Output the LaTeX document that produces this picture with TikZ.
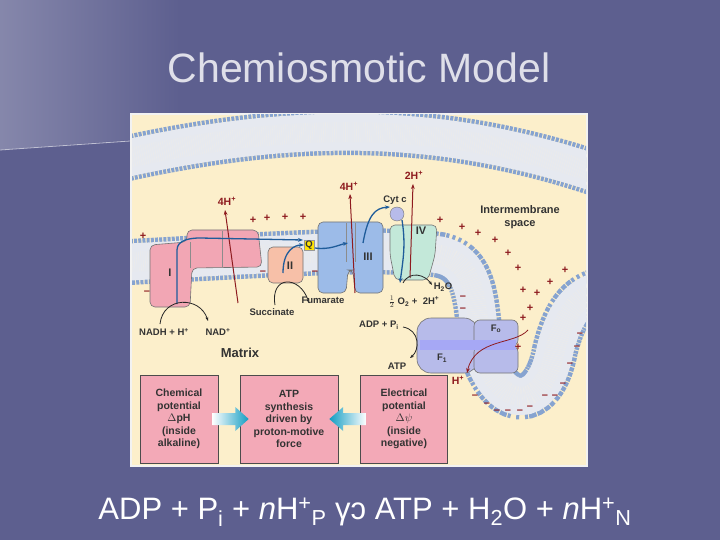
\documentclass[tikz,border=0pt]{standalone}
\usepackage{fontspec}
\setmainfont{Liberation Sans}
\usetikzlibrary{arrows.meta}
\definecolor{bg}{HTML}{5D5F8F}
\definecolor{cream}{HTML}{FCEFCB}
\definecolor{memb}{HTML}{E6E9F0}
\definecolor{bead}{HTML}{86A3D0}
\definecolor{pinkc}{HTML}{F2A6B4}
\definecolor{salm}{HTML}{F7C0A8}
\definecolor{bluec}{HTML}{9CBBE8}
\definecolor{greenc}{HTML}{C3E8D9}
\definecolor{purc}{HTML}{B7BBEA}
\definecolor{dred}{HTML}{8E1B1F}
\definecolor{dblue}{HTML}{1F5C9A}
\definecolor{boxp}{HTML}{F3A9B7}
\tikzset{
 lbl/.style={font=\bfseries\fontsize{9.5}{10}\selectfont,text=black!80,inner sep=0pt},
 rlbl/.style={font=\bfseries\fontsize{10.5}{11}\selectfont,text=dred,inner sep=0pt},
 prot/.style={draw=black!55,line width=0.6pt,rounded corners=5pt},
 redarr/.style={dred,line width=1pt,-{Stealth[length=5pt]}},
 bluearr/.style={dblue,line width=1.3pt,-{Stealth[length=5pt]}},
 blkarr/.style={black!85,line width=0.8pt,-{Stealth[length=4pt]}},
 pbox/.style={fill=boxp,draw=black!70,line width=0.6pt,minimum width=78pt,minimum height=88pt,align=center,font=\bfseries\fontsize{10.5}{12.5}\selectfont,text=black!80},
 pm/.style={font=\bfseries\fontsize{11}{11}\selectfont,text=dred,inner sep=0pt},
 membstyle/.style={line width=46pt},
}
\begin{document}
\begin{tikzpicture}[x=1pt,y=-1pt]
\useasboundingbox (0,0) rectangle (720,540);
\fill[bg] (0,0) rectangle (720,540);
\shade[left color=bg!75!white,right color=bg] (0,0) rectangle (180,150);
\fill[bg] (0,150) -- (130,140) -- (180,140) -- (180,150) -- cycle;
\draw[white!60!bg,line width=0.8pt] (0,150) -- (130,141);
\node[font=\fontsize{41}{44}\selectfont,text=white!80!bg] (title) at (359,68) {Chemiosmotic Model};
% panel
\fill[white!95!black] (130,113) rectangle (588,467);
\begin{scope}
\clip (132,115) rectangle (586,465);
\fill[cream] (132,115) rectangle (586,465);
\draw[bead,membstyle,dash pattern=on 3pt off 1.2pt] (110,162) .. controls (300,118) and (450,122) .. (610,178);
\draw[memb,line width=37pt] (110,162) .. controls (300,118) and (450,122) .. (610,178);
\draw[black!8,line width=20pt,dash pattern=on 0.6pt off 1.6pt] (110,162) .. controls (300,118) and (450,122) .. (610,178);
\path[save path=\inner] (110,263) .. controls (250,256) and (380,246) .. (440,255) .. controls (490,265) and (470,340) .. (490,372) .. controls (510,410) and (545,405) .. (555,350) .. controls (565,310) and (580,292) .. (610,288);
\draw[bead,membstyle,dash pattern=on 3pt off 1.2pt,use path=\inner];
\draw[memb,line width=37pt,use path=\inner];
\draw[black!8,line width=20pt,dash pattern=on 0.6pt off 1.6pt,use path=\inner];
\fill[cream] (132,375) rectangle (450,465);
\end{scope}
% proteins
\draw[prot,fill=pinkc] (187,230) -- (258,230) -- (262,267) -- (192,268) -- (190,307) -- (150,307) -- (150,245) -- (187,242) -- cycle;
\draw[black!45,line width=0.5pt] (190,242) -- (190,268) (222,231) -- (222,267);
\node[lbl,font=\bfseries\fontsize{11}{11}\selectfont] (cI) at (170,273) {I};
\draw[prot,fill=salm] (268,247) rectangle (303,283);
\node[lbl,font=\bfseries\fontsize{11}{11}\selectfont] (cII) at (290,266) {II};
\draw[prot,fill=bluec] (318,222) -- (383,222) -- (383,293) -- (355,293) -- (353,270) -- (348,270) -- (346,293) -- (318,293) -- cycle;
\draw[black!45,line width=0.5pt] (346,223) -- (346,262) (355,223) -- (355,262);
\node[lbl,font=\bfseries\fontsize{11}{11}\selectfont] (cIII) at (368,257) {III};
\draw[prot,fill=greenc] (390,225) -- (437,225) -- (435,255) -- (428,280) -- (395,280) -- (390,255) -- cycle;
\node[lbl,font=\bfseries\fontsize{11}{11}\selectfont] (cIV) at (421,231) {IV};
\draw[draw=black!55,fill=purc] (397,214) circle (7);
\coordinate (cytc) at (397,214);
\draw[draw=black!40,fill=yellow!85!orange] (304,240) rectangle (314,250);
\node[lbl] (Q) at (309,245) {Q};
% ATP synthase
\draw[prot,fill=purc,rounded corners=14pt] (417,318) rectangle (478,373);
\draw[prot,fill=purc,rounded corners=6pt] (474,320) rectangle (518,346);
\draw[prot,fill=purc,rounded corners=6pt] (474,346) rectangle (518,373);
\fill[purc!70!blue!70!white] (420,340) rectangle (516,350);
\node[lbl] (Fo) at (496,329) {F\textsubscript{o}};
\node[lbl] (F1) at (442,358) {F\textsubscript{1}};
% red arrows
\coordinate (r1a) at (238,303); \coordinate (r1b) at (225,210);
\coordinate (r3a) at (355,293); \coordinate (r3b) at (350,194);
\coordinate (r4a) at (410,278); \coordinate (r4b) at (413,184);
\draw[redarr] (r1a) -- (r1b);
\draw[redarr] (r3a) -- (r3b);
\draw[redarr] (r4a) -- (r4b);
\node[rlbl] (h1) at (227,201) {4H\textsuperscript{+}};
\node[rlbl] (h3) at (349,186) {4H\textsuperscript{+}};
\node[rlbl] (h4) at (414,175) {2H\textsuperscript{+}};
\coordinate (ra) at (528,330);
\draw[redarr,line width=0.8pt] (ra) .. controls (515,345) and (475,338) .. (467,373);
\node[rlbl] (hp) at (458,380) {H\textsuperscript{+}};
% blue arrows
\draw[bluearr] (177,304) -- (177,250) .. controls (177,240) and (190,238) .. (200,238) -- (303,240);
\draw[bluearr] (283,273) .. controls (283,250) and (295,245) .. (304,245);
\draw[bluearr] (315,248) .. controls (330,250) and (338,245) .. (348,243);
\draw[bluearr] (363,243) .. controls (368,215) and (375,208) .. (390,207);
\draw[bluearr] (cytc) ++(5,6) .. controls (406,245) and (403,260) .. (400,283);
% black arrows
\draw[blkarr] (160,324) .. controls (163,296) and (200,296) .. (208,321);
\draw[blkarr] (275,305) .. controls (270,275) and (300,275) .. (309,303);
\draw[blkarr] (403,283) .. controls (410,270) and (425,275) .. (432,285);
\draw[blkarr] (403,327) .. controls (420,330) and (420,350) .. (410,358);
% labels
\node[lbl] (nadh) at (164,332) {NADH + H\textsuperscript{+}};
\node[lbl] (nad) at (218,332) {NAD\textsuperscript{+}};
\node[lbl] (succ) at (272,312) {Succinate};
\node[lbl] (fum) at (323,300) {Fumarate};
\node[lbl] (cytl) at (395,200) {Cyt c};
\node[lbl] (h2o) at (443,287) {H\textsubscript{2}O};
\node[lbl] (o2) at (414,302) {$\frac{1}{2}$ O\textsubscript{2} + \ 2H\textsuperscript{+}};
\node[lbl] (adp) at (379,325) {ADP + P\textsubscript{i}};
\node[lbl] (atp) at (397,366) {ATP};
\node[lbl,font=\bfseries\fontsize{13}{13}\selectfont] (mat) at (240,353) {Matrix};
\node[lbl,font=\bfseries\fontsize{11}{13}\selectfont,align=center] (ims) at (520,217) {Intermembrane\\space};
% plus / minus
\foreach \p in {(143,236),(253,220),(267,218),(285,217),(303,217),(440,220),(462,227),(478,233),(495,240),(508,253),(518,268),(523,290),(537,293),(550,282),(565,270),(530,308),(523,318),(518,347)}
 \node[pm] at \p {+};
\foreach \p in {(147,293),(263,273),(315,273),(463,298),(463,310),(580,335),(577,348),(570,365),(563,385),(475,397),(487,405),(497,412),(508,412),(520,412),(530,408),(545,397),(555,397)}
 \node[pm] at \p {--};
% boxes
\node[pbox] (b1) at (179,419) {Chemical\\potential\\$\Delta$pH\\(inside\\alkaline)};
\node[pbox,minimum width=98pt] (b2) at (289,419) {ATP\\synthesis\\driven by\\proton-motive\\force};
\node[pbox,minimum width=87pt] (b3) at (404,419) {Electrical\\potential\\$\Delta\psi$\\(inside\\negative)};
\shade[left color=white,right color=dblue!60!cyan] ([xshift=-6pt,yshift=6pt]b1.east) -- ([xshift=17pt,yshift=6pt]b1.east) -- ([xshift=17pt,yshift=12pt]b1.east) -- ([xshift=9pt]b2.west) -- ([xshift=17pt,yshift=-12pt]b1.east) -- ([xshift=17pt,yshift=-6pt]b1.east) -- ([xshift=-6pt,yshift=-6pt]b1.east) -- cycle;
\shade[right color=white,left color=dblue!60!cyan] ([xshift=6pt,yshift=6pt]b3.west) -- ([xshift=-17pt,yshift=6pt]b3.west) -- ([xshift=-17pt,yshift=12pt]b3.west) -- ([xshift=-9pt]b2.east) -- ([xshift=-17pt,yshift=-12pt]b3.west) -- ([xshift=-17pt,yshift=-6pt]b3.west) -- ([xshift=6pt,yshift=-6pt]b3.west) -- cycle;
% equation
\node[font=\fontsize{31}{33}\selectfont,text=white] (eq) at (365,512) {ADP + P\textsubscript{i} + \textit{n}H\textsuperscript{+}\textsubscript{P} γɔ ATP + H\textsubscript{2}O + \textit{n}H\textsuperscript{+}\textsubscript{N}};
\end{tikzpicture}
\end{document}
